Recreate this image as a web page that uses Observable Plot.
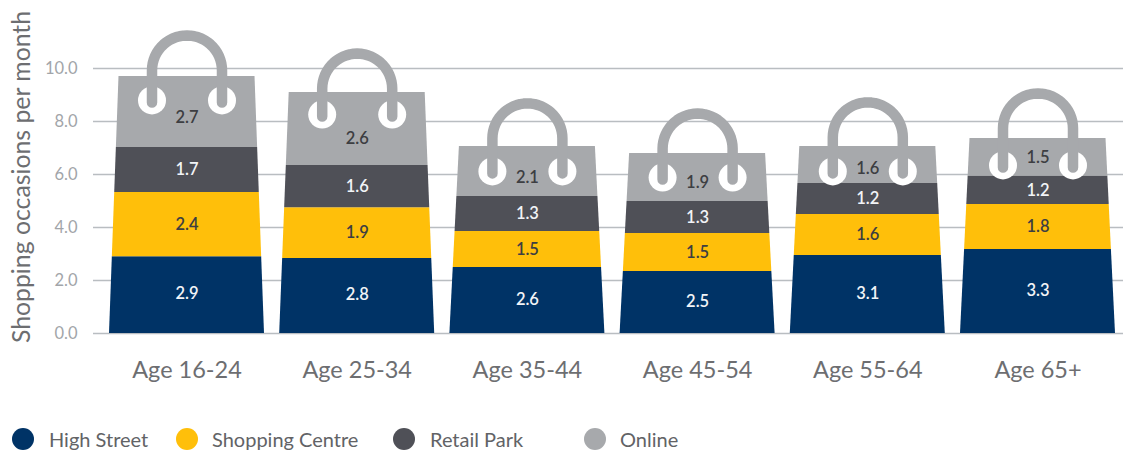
<!DOCTYPE html>
<html>
<head>
<meta charset="utf-8">
<script src="https://cdn.jsdelivr.net/npm/d3@7"></script>
<script src="https://cdn.jsdelivr.net/npm/@observablehq/plot@0.6"></script>
<style>
html,body{margin:0;padding:0;background:#fff;width:1123px;height:450px;overflow:hidden;font-family:Lato,sans-serif}
#chart{position:absolute;left:0;top:0}
#chart svg{display:block;overflow:visible}
.lg{position:absolute;top:428px;height:22px;display:block}
.lg i{position:absolute;left:0;top:0;width:22px;height:22px;border-radius:50%}
.lg span{position:absolute;top:0;line-height:23px;font-size:20px;color:#626366;white-space:nowrap}
</style>
</head>
<body>
<div id="chart"></div>
<div id="legend"></div>
<script>
// ---- data
const ages = ["Age 16-24","Age 25-34","Age 35-44","Age 45-54","Age 55-64","Age 65+"];
const series = ["High Street","Shopping Centre","Retail Park","Online"];
const colors = ["#003366","#ffbf0a","#4f5057","#a7a9ac"];
// drawn heights of the bands
const highStreet = [2.90,2.83,2.49,2.34,2.94,3.17];
const shoppingCentre = [2.42,1.92,1.36,1.43,1.55,1.70];
const retailPark = [1.70,1.59,1.32,1.21,1.17,1.07];
const online = [2.68,2.75,1.89,1.81,1.40,1.42];
// printed labels
const highStreetLabels = ["2.9","2.8","2.6","2.5","3.1","3.3"];
const shoppingCentreLabels = ["2.4","1.9","1.5","1.5","1.6","1.8"];
const retailParkLabels = ["1.7","1.6","1.3","1.3","1.2","1.2"];
const onlineLabels = ["2.7","2.6","2.1","1.9","1.6","1.5"];
const yTicks = [0,2,4,6,8,10];

// ---- layout of the page
const pxX = 170.2, pxY = 26.5;       // pixels per data unit
const left = 93, width = 1123, zeroY = 333, tenY = 68, height = 420;
const center0 = 186.5;
const halfBottom = 77.5, halfTop = 68;
const holeDrop = [24,22,25,24,25,27];
const archLift = [6,4,8,5,9,10];
const onlineNudge = [6,10,6,5,4,0];
const armPx = 35;

const values = [highStreet, shoppingCentre, retailPark, online];
const labels = [highStreetLabels, shoppingCentreLabels, retailParkLabels, onlineLabels];
const totals = ages.map((_, i) => d3.sum(values, v => v[i]));

const bandRows = [], textRows = [], holeRows = [], handleRows = [];
ages.forEach((age, i) => {
  let base = 0;
  series.forEach((s, k) => {
    const top = base + values[k][i];
    for (const y of [base, top]) {
      const h = (halfBottom + (halfTop - halfBottom) * y / totals[i]) / pxX;
      bandRows.push({key: age + s, series: s, y, x1: i - h, x2: i + h});
    }
    const nudge = k === 3 ? onlineNudge[i] : (k === 0 ? -1 : 0);
    textRows.push({i, y: (base + top) / 2 - nudge / pxY, label: labels[k][i], light: k === 0 || k === 2});
    base = top;
  });
  const holeY = totals[i] - holeDrop[i] / pxY;
  const archY = totals[i] + archLift[i] / pxY;
  const a = armPx / pxX;
  holeRows.push({x: i - a, y: holeY}, {x: i + a, y: holeY});
  handleRows.push({i, x: i - a, y: holeY + 2 / pxY * -1});
  for (let deg = 180; deg >= 0; deg -= 6) {
    const t = deg * Math.PI / 180;
    handleRows.push({i, x: i + a * Math.cos(t), y: archY + armPx * Math.sin(t) / pxY});
  }
  handleRows.push({i, x: i + a, y: holeY + 2 / pxY * -1});
});

const plot = Plot.plot({
  width, height,
  marginLeft: left, marginRight: 0, marginTop: tenY, marginBottom: height - zeroY,
  style: {fontFamily: "Lato, sans-serif", background: "transparent"},
  x: {domain: [(left - center0) / pxX, (width - center0) / pxX]},
  y: {domain: [0, 10]},
  color: {domain: series, range: colors},
  marks: [
    Plot.ruleY(yTicks, {stroke: "#b9bdc1", strokeWidth: 1.5}),
    Plot.axisY({ticks: yTicks, tickFormat: d => d.toFixed(1), tickSize: 0, tickPadding: 16,
      fontSize: 16.5, fill: "#a2a5a9", label: null}),
    Plot.axisX({ticks: ages.map((_, i) => i), tickFormat: i => ages[i], tickSize: 0, tickPadding: 28,
      fontSize: 23.5, fill: "#6d6e71", label: null}),
    Plot.text(["Shopping occasions per month"], {
      frameAnchor: "left", textAnchor: "middle", text: d => d, rotate: -90, dx: -71, dy: -24,
      fontSize: 24.8, fill: "#6d6e71"}),
    Plot.areaX(bandRows, {x1: "x1", x2: "x2", y: "y", z: "key", fill: "series"}),
    Plot.dot(holeRows, {x: "x", y: "y", r: 14, fill: "#ffffff", stroke: "none"}),
    Plot.line(handleRows, {x: "x", y: "y", z: "i", stroke: colors[3], strokeWidth: 10.5,
      strokeLinecap: "round", strokeLinejoin: "round"}),
    Plot.text(textRows.filter(d => d.light), {x: "i", y: "y", text: "label", fill: "#f2f4f7", fontSize: 16.5, fontWeight: 600}),
    Plot.text(textRows.filter(d => !d.light), {x: "i", y: "y", text: "label", fill: "#3d3e42", fontSize: 16.5, fontWeight: 600})
  ]
});
document.getElementById("chart").append(plot);

// ---- legend
const legendAt = [[12,37],[176,36],[393,37],[584,36]];
const legend = document.getElementById("legend");
series.forEach((s, k) => {
  const el = document.createElement("div");
  el.className = "lg";
  el.style.left = legendAt[k][0] + "px";
  el.innerHTML = `<i style="background:${colors[k]}"></i><span style="left:${legendAt[k][1]}px">${s}</span>`;
  legend.append(el);
});
</script>
</body>
</html>
